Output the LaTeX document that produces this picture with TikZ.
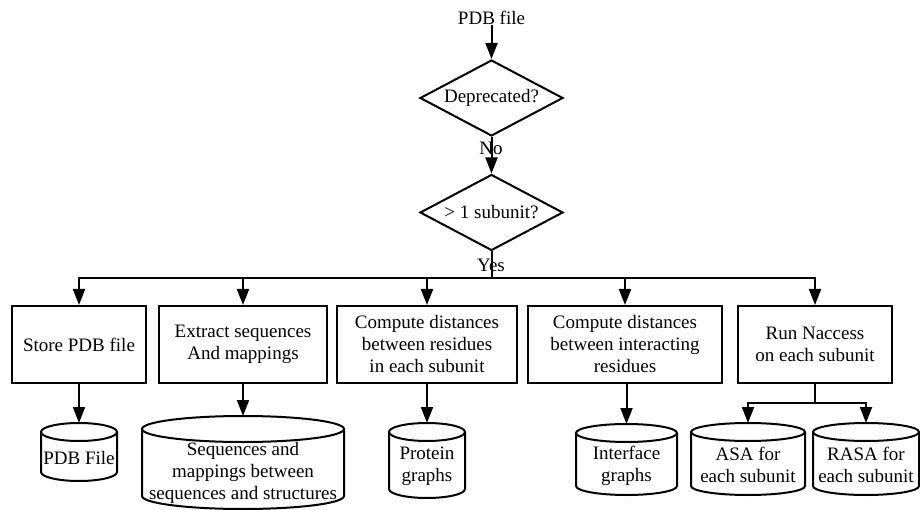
\documentclass[tikz,border=0pt]{standalone}
\usepackage{fontspec}
\setmainfont{Liberation Serif}
\newfontfamily\tmsfont{Liberation Serif}
\usetikzlibrary{shapes.geometric,arrows.meta,calc}
\tikzset{
  line/.style={line width=2pt, line join=miter},
  arr/.style={line, -{Triangle[length=16pt,width=12pt]}},
  txt/.style={font=\tmsfont\fontsize{19}{22}\selectfont, align=center, inner sep=0pt},
  procbox/.style={line, draw, txt, minimum height=77pt},
  decision/.style={line, draw, diamond, txt, inner sep=0pt, minimum width=143pt, minimum height=76pt, aspect=1.88},
  cylbox/.style={draw=none, inner sep=0pt, outer sep=0pt, anchor=north},
}
% name, cx, top, width, height, ry, text
\newcommand\dbcyl[7]{%
  \node[cylbox, minimum width=#4pt, minimum height=#5pt] (#1) at (#2,#3) {};
  \draw[line] ([yshift=-#6pt]#1.north west) -- ([yshift=#6pt]#1.south west)
     arc[start angle=180, end angle=360, x radius=0.5*#4pt, y radius=#6pt]
     -- ([yshift=-#6pt]#1.north east);
  \draw[line] ([yshift=-#6pt]#1.north) ellipse[x radius=0.5*#4pt, y radius=#6pt];
  \node[txt] (#1t) at ([yshift={-(#6-3)*1pt}]#1.center) {#7};
}
\begin{document}
\begin{tikzpicture}[x=1pt,y=-1pt]
\useasboundingbox (0,0) rectangle (920,510);
\node[txt] (src) at (491.5,18) {PDB file};
\node[decision] (d1) at (491.5,98) {Deprecated?};
\node[decision] (d2) at (491.5,212.5) {> 1 subunit?};
\coordinate (jc) at (491.5,278);
\draw[arr] (src) -- (d1);
\draw[arr] (d1) -- (d2);
\draw[line] (d2.south) -- (jc);
\node[txt] (no) at (491,148) {No};
\node[txt] (yes) at (491,265) {Yes};

\node[procbox, minimum width=134pt] (b1) at (79,344.5) {Store PDB file};
\node[procbox, minimum width=168pt] (b2) at (243,344.5) {Extract sequences\\And mappings};
\node[procbox, minimum width=180pt] (b3) at (427,344.5) {Compute distances\\between residues\\in each subunit};
\node[procbox, minimum width=194pt] (b4) at (625,344.5) {Compute distances\\between interacting\\residues};
\node[procbox, minimum width=154pt] (b5) at (815,344.5) {Run Naccess\\on each subunit};
\foreach \b in {b1,b2,b3,b4,b5} \draw[arr] (jc) -| (\b);

\dbcyl{c1}{79}{423}{76}{58}{9}{PDB File}
\dbcyl{c2}{243}{416}{202}{93}{13}{Sequences and\\mappings between\\sequences and structures}
\dbcyl{c3}{427}{423}{76}{75}{9}{Protein\\graphs}
\dbcyl{c4}{626.5}{424}{101}{71}{9}{Interface\\graphs}
\dbcyl{c5}{748}{423}{114}{72}{9}{ASA for\\each subunit}
\dbcyl{c6}{866}{423}{106}{72}{9}{RASA for\\each subunit}

\draw[arr] (b1) -- (c1);
\draw[arr] (b2) -- (c2);
\draw[arr] (b3) -- (c3);
\draw[arr] (b4.south -| c4) -- (c4);
\coordinate (sp) at (815,403);
\draw[line] (b5) -- (sp);
\draw[arr] (sp) -| (c5);
\draw[arr] (sp) -| (c6);
\end{tikzpicture}
\end{document}
